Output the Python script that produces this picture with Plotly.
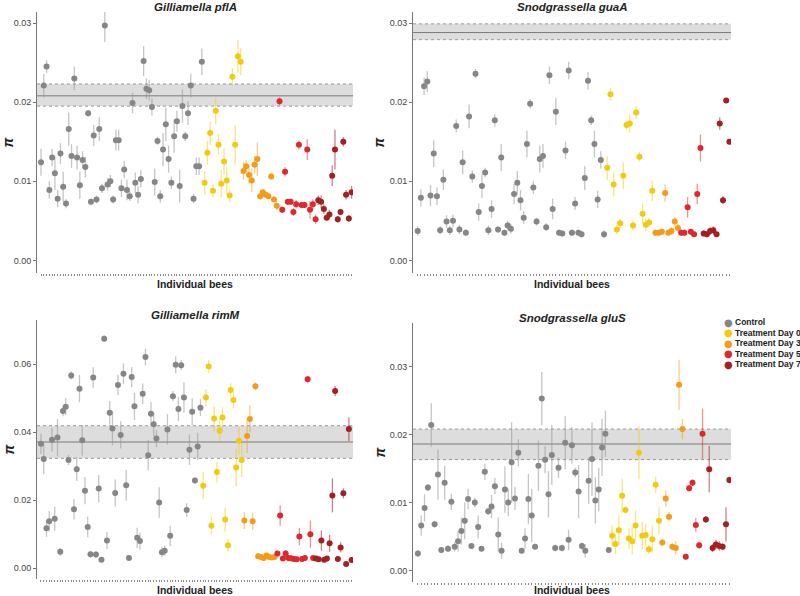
import plotly.graph_objects as go

W, H = 800, 596

groups = ["Control", "Treatment Day 0", "Treatment Day 3", "Treatment Day 5", "Treatment Day 7"]
colors = ["#868686", "#F2CB0C", "#F49B17", "#E0272B", "#A41E22"]
err_colors = ["rgba(150,150,150,0.55)", "rgba(242,203,12,0.5)", "rgba(244,155,23,0.5)",
              "rgba(224,39,43,0.5)", "rgba(164,30,34,0.55)"]

# Gilliamella pflA
pfla_counts = [59, 14, 13, 14, 13]
pfla_pi = [0.0124, 0.0221, 0.0245, 0.0089, 0.0130, 0.0110, 0.0078, 0.0135, 0.0093, 0.0072,
           0.0166, 0.0132, 0.0230, 0.0130, 0.0095, 0.0127, 0.0118, 0.0186, 0.0074, 0.0158,
           0.0077, 0.0166, 0.0091, 0.0297, 0.0096, 0.0100, 0.0077, 0.0152, 0.0152, 0.0091,
           0.0115, 0.0089, 0.0081, 0.0199, 0.0098, 0.0083, 0.0103, 0.0252, 0.0217, 0.0215,
           0.0194, 0.0099, 0.0151, 0.0081, 0.0140, 0.0172, 0.0128, 0.0098, 0.0157, 0.0176,
           0.0094, 0.0195, 0.0157, 0.0186, 0.0221, 0.0078, 0.0119, 0.0119, 0.0251,
           0.0098, 0.0136, 0.0161, 0.0088, 0.0189, 0.0146, 0.0097, 0.0125, 0.0101, 0.0082,
           0.0232, 0.0146, 0.0258, 0.0251,
           0.0113, 0.0119, 0.0108, 0.0101, 0.0121, 0.0128, 0.0081, 0.0086, 0.0083, 0.0081,
           0.0106, 0.0077, 0.0069,
           0.0201, 0.0064, 0.0112, 0.0074, 0.0074, 0.0061, 0.0071, 0.0146, 0.0070, 0.0070,
           0.0140, 0.0064, 0.0071, 0.0052,
           0.0076, 0.0074, 0.0065, 0.0054, 0.0058, 0.0107, 0.0140, 0.0052, 0.0061, 0.0150,
           0.0083, 0.0053, 0.0086]
pfla_err = [0.0017, 0.0015, 0.0008, 0.0011, 0.0011, 0.0021, 0.0011, 0.0013, 0.0019, 0.0006,
            0.0021, 0.0015, 0.0015, 0.0015, 0.0017, 0.0011, 0.0013, 0.0004, 0.0004, 0.0013,
            0.0005, 0.0015, 0.0006, 0.0021, 0.0008, 0.0008, 0.0005, 0.0013, 0.0013, 0.0011,
            0.0011, 0.0013, 0.0006, 0.0013, 0.0013, 0.0011, 0.0011, 0.0019, 0.0013, 0.0013,
            0.0011, 0.0017, 0.0005, 0.0008, 0.0021, 0.0021, 0.0017, 0.0008, 0.0021, 0.0013,
            0.0021, 0.0021, 0.0006, 0.0015, 0.0015, 0.0006, 0.0011, 0.0011, 0.0017,
            0.0015, 0.0015, 0.0015, 0.0008, 0.0017, 0.0013, 0.0017, 0.0017, 0.0017, 0.0008,
            0.0011, 0.0025, 0.0021, 0.0017,
            0.0011, 0.0008, 0.0011, 0.0015, 0.0011, 0.0021, 0.0004, 0.0004, 0.0003, 0.0003,
            0.0004, 0.0004, 0.0006,
            0.0005, 0.0004, 0.0006, 0.0004, 0.0004, 0.0005, 0.0005, 0.0006, 0.0004, 0.0004,
            0.0013, 0.0011, 0.0006, 0.0006,
            0.0006, 0.0008, 0.0006, 0.0004, 0.0006, 0.0013, 0.0025, 0.0004, 0.0004, 0.0006,
            0.0006, 0.0004, 0.0008]
pfla_band = [0.0195, 0.0208, 0.0223]

# Snodgrassella guaA
guaa_counts = [59, 15, 8, 7, 9]
guaa_pi = [0.0037, 0.0079, 0.0220, 0.0226, 0.0082, 0.0135, 0.0081, 0.0038, 0.0102, 0.0049,
           0.0038, 0.0050, 0.0170, 0.0039, 0.0124, 0.0035, 0.0182, 0.0106, 0.0236, 0.0061,
           0.0094, 0.0111, 0.0038, 0.0065, 0.0177, 0.0039, 0.0130, 0.0035, 0.0044, 0.0040,
           0.0084, 0.0098, 0.0076, 0.0054, 0.0147, 0.0198, 0.0092, 0.0049, 0.0128, 0.0132,
           0.0042, 0.0234, 0.0065, 0.0188, 0.0035, 0.0034, 0.0139, 0.0240, 0.0035, 0.0072,
           0.0035, 0.0033, 0.0104, 0.0227, 0.0177, 0.0147, 0.0077, 0.0127, 0.0033,
           0.0117, 0.0210, 0.0096, 0.0039, 0.0047, 0.0107, 0.0171, 0.0173, 0.0044, 0.0187,
           0.0131, 0.0059, 0.0045, 0.0048, 0.0088,
           0.0035, 0.0035, 0.0036, 0.0085, 0.0035, 0.0037, 0.0049, 0.0041,
           0.0035, 0.0035, 0.0067, 0.0036, 0.0033, 0.0084, 0.0142,
           0.0034, 0.0033, 0.0037, 0.0038, 0.0033, 0.0173, 0.0076, 0.0202, 0.0150]
guaa_err = [0.0006, 0.0011, 0.0011, 0.0013, 0.0013, 0.0017, 0.0011, 0.0005, 0.0013, 0.0008,
            0.0006, 0.0008, 0.0008, 0.0006, 0.0015, 0.0004, 0.0015, 0.0008, 0.0006, 0.0011,
            0.0015, 0.0006, 0.0006, 0.0011, 0.0008, 0.0004, 0.0017, 0.0004, 0.0006, 0.0006,
            0.0013, 0.0015, 0.0013, 0.0008, 0.0017, 0.0006, 0.0008, 0.0005, 0.0017, 0.0015,
            0.0005, 0.0011, 0.0013, 0.0017, 0.0004, 0.0004, 0.0011, 0.0011, 0.0004, 0.0008,
            0.0004, 0.0004, 0.0015, 0.0011, 0.0006, 0.0017, 0.0011, 0.0011, 0.0005,
            0.0015, 0.0008, 0.0015, 0.0006, 0.0006, 0.0017, 0.0006, 0.0011, 0.0006, 0.0008,
            0.0006, 0.0013, 0.0008, 0.0006, 0.0013,
            0.0004, 0.0004, 0.0004, 0.0011, 0.0004, 0.0005, 0.0006, 0.0006,
            0.0004, 0.0004, 0.0013, 0.0004, 0.0003, 0.0013, 0.0017,
            0.0004, 0.0004, 0.0005, 0.0005, 0.0003, 0.0008, 0.0005, 0.0003, 0.0003]
guaa_band = [0.0279, 0.0288, 0.0299]

# Gilliamella rimM
rimm_counts = [59, 15, 12, 14, 14]
rimm_pi = [0.0366, 0.0321, 0.0117, 0.0138, 0.0378, 0.0145, 0.0384, 0.0048, 0.0462, 0.0475,
           0.0318, 0.0567, 0.0173, 0.0291, 0.0528, 0.0376, 0.0228, 0.0121, 0.0041, 0.0561,
           0.0040, 0.0234, 0.0025, 0.0675, 0.0081, 0.0457, 0.0411, 0.0221, 0.0539, 0.0392,
           0.0572, 0.0244, 0.0030, 0.0562, 0.0476, 0.0089, 0.0080, 0.0513, 0.0621, 0.0332,
           0.0454, 0.0423, 0.0381, 0.0193, 0.0047, 0.0051, 0.0408, 0.0095, 0.0506, 0.0598,
           0.0468, 0.0597, 0.0502, 0.0171, 0.0348, 0.0460, 0.0258, 0.0358, 0.0472,
           0.0242, 0.0502, 0.0593, 0.0125, 0.0440, 0.0283, 0.0404, 0.0443, 0.0143, 0.0067,
           0.0524, 0.0495, 0.0296, 0.0375, 0.0318,
           0.0140, 0.0389, 0.0439, 0.0138, 0.0535, 0.0035, 0.0033, 0.0030, 0.0037, 0.0033,
           0.0031, 0.0033,
           0.0043, 0.0155, 0.0028, 0.0043, 0.0030, 0.0029, 0.0027, 0.0026, 0.0093, 0.0027,
           0.0030, 0.0556, 0.0100, 0.0030,
           0.0028, 0.0026, 0.0081, 0.0025, 0.0028, 0.0073, 0.0214, 0.0521, 0.0027, 0.0061,
           0.0220, 0.0012, 0.0409, 0.0024]
rimm_err = [0.0030, 0.0045, 0.0025, 0.0030, 0.0035, 0.0035, 0.0055, 0.0012, 0.0015, 0.0025,
            0.0015, 0.0012, 0.0030, 0.0035, 0.0040, 0.0045, 0.0040, 0.0030, 0.0010, 0.0030,
            0.0010, 0.0040, 0.0005, 0.0010, 0.0025, 0.0035, 0.0050, 0.0040, 0.0030, 0.0040,
            0.0030, 0.0045, 0.0005, 0.0030, 0.0040, 0.0030, 0.0025, 0.0030, 0.0025, 0.0045,
            0.0035, 0.0035, 0.0025, 0.0045, 0.0015, 0.0015, 0.0045, 0.0030, 0.0015, 0.0025,
            0.0035, 0.0015, 0.0045, 0.0020, 0.0045, 0.0040, 0.0010, 0.0040, 0.0025,
            0.0040, 0.0025, 0.0020, 0.0025, 0.0035, 0.0030, 0.0030, 0.0030, 0.0035, 0.0020,
            0.0020, 0.0025, 0.0055, 0.0040, 0.0050,
            0.0025, 0.0050, 0.0040, 0.0025, 0.0012, 0.0008, 0.0006, 0.0005, 0.0008, 0.0005,
            0.0005, 0.0005,
            0.0008, 0.0030, 0.0005, 0.0010, 0.0005, 0.0005, 0.0005, 0.0005, 0.0025, 0.0005,
            0.0008, 0.0010, 0.0040, 0.0005,
            0.0005, 0.0006, 0.0030, 0.0005, 0.0008, 0.0025, 0.0050, 0.0015, 0.0005, 0.0015,
            0.0015, 0.0005, 0.0035, 0.0005]
rimm_band = [0.0323, 0.0371, 0.0419]

# Snodgrassella gluS
glus_counts = [58, 15, 7, 6, 8]
glus_pi = [0.0025, 0.0066, 0.0092, 0.0122, 0.0214, 0.0068, 0.0141, 0.0030, 0.0129, 0.0032,
           0.0101, 0.0035, 0.0043, 0.0058, 0.0073, 0.0105, 0.0036, 0.0100, 0.0064, 0.0032,
           0.0145, 0.0087, 0.0094, 0.0124, 0.0053, 0.0029, 0.0119, 0.0100, 0.0159, 0.0106,
           0.0173, 0.0029, 0.0047, 0.0105, 0.0081, 0.0035, 0.0154, 0.0253, 0.0163, 0.0112,
           0.0170, 0.0033, 0.0151, 0.0033, 0.0188, 0.0045, 0.0184, 0.0144, 0.0116, 0.0036,
           0.0029, 0.0132, 0.0164, 0.0103, 0.0119, 0.0181, 0.0201, 0.0030,
           0.0051, 0.0039, 0.0059, 0.0110, 0.0089, 0.0047, 0.0043, 0.0066, 0.0173, 0.0051,
           0.0052, 0.0031, 0.0046, 0.0126, 0.0073,
           0.0041, 0.0106, 0.0079, 0.0035, 0.0033, 0.0273, 0.0208,
           0.0020, 0.0121, 0.0129, 0.0067, 0.0037, 0.0201,
           0.0075, 0.0149, 0.0033, 0.0038, 0.0036, 0.0035, 0.0068, 0.0133]
glus_err = [0.0005, 0.0015, 0.0020, 0.0005, 0.0032, 0.0005, 0.0037, 0.0004, 0.0025, 0.0005,
            0.0012, 0.0007, 0.0015, 0.0020, 0.0027, 0.0015, 0.0004, 0.0007, 0.0017, 0.0004,
            0.0012, 0.0005, 0.0017, 0.0012, 0.0025, 0.0012, 0.0034, 0.0020, 0.0059, 0.0017,
            0.0020, 0.0004, 0.0015, 0.0037, 0.0039, 0.0004, 0.0037, 0.0039, 0.0020, 0.0034,
            0.0044, 0.0005, 0.0015, 0.0005, 0.0039, 0.0015, 0.0027, 0.0007, 0.0039, 0.0005,
            0.0010, 0.0034, 0.0054, 0.0034, 0.0032, 0.0042, 0.0034, 0.0004,
            0.0015, 0.0015, 0.0022, 0.0025, 0.0005, 0.0015, 0.0020, 0.0022, 0.0039, 0.0020,
            0.0017, 0.0007, 0.0020, 0.0012, 0.0020,
            0.0005, 0.0012, 0.0007, 0.0005, 0.0010, 0.0037, 0.0015,
            0.0004, 0.0005, 0.0005, 0.0010, 0.0005, 0.0037,
            0.0005, 0.0034, 0.0006, 0.0007, 0.0007, 0.0005, 0.0025, 0.0005]
glus_band = [0.0163, 0.0186, 0.0208]


def px(x):
    return x / W


def py(y):
    return 1 - y / H


# title, values, errors, counts, band, y-range, dtick, (left, right, top, bottom) in px, pi-label x
panels = [
    ("Gilliamella pflA", pfla_pi, pfla_err, pfla_counts, pfla_band, [-0.0016, 0.0314], 0.01, (37, 353, 12, 273), 8),
    ("Snodgrassella guaA", guaa_pi, guaa_err, guaa_counts, guaa_band, [-0.0016, 0.0314], 0.01, (413, 731, 12, 273), 379),
    ("Gilliamella rimM", rimm_pi, rimm_err, rimm_counts, rimm_band, [-0.0032, 0.073], 0.02, (37, 353, 320, 579), 8),
    ("Snodgrassella gluS", glus_pi, glus_err, glus_counts, glus_band, [-0.0017, 0.0364], 0.01, (413, 731, 323, 582), 379),
]

fig = go.Figure()
shapes = []
annotations = []
font = "Liberation Sans, Arial, sans-serif"

for i, (title, vals, errs, counts, band, yr, dt, box, pix) in enumerate(panels):
    n = i + 1
    xa = "x" if n == 1 else f"x{n}"
    ya = "y" if n == 1 else f"y{n}"
    start = 0
    for g, c in enumerate(counts):
        xs = list(range(start + 1, start + c + 1))
        fig.add_trace(go.Scatter(
            x=xs, y=vals[start:start + c], mode="markers", name=groups[g],
            marker=dict(size=6, color=colors[g]),
            error_y=dict(type="data", array=errs[start:start + c], color=err_colors[g],
                         thickness=1.3, width=0),
            xaxis=xa, yaxis=ya, showlegend=False))
        start += c
    total = sum(counts)
    l, r, t, b = box
    fig.layout[f"xaxis{'' if n == 1 else n}"] = dict(
        domain=[px(l), px(r)], range=[-0.45, total + 0.5], anchor=ya,
        tickvals=list(range(1, total + 1)), ticks="outside", ticklen=2, tickwidth=1,
        tickcolor="#8a8a8a", showticklabels=False, showline=False, showgrid=False, zeroline=False)
    fig.layout[f"yaxis{'' if n == 1 else n}"] = dict(
        domain=[py(b), py(t)], range=yr, anchor=xa, dtick=dt, tick0=0, tickformat=".2f",
        ticks="outside", ticklen=3, tickcolor="#777", showline=True, linecolor="#777",
        linewidth=1, showgrid=False, zeroline=False,
        tickfont=dict(family=font, size=9, color="#444"))
    xref = f"{xa} domain"
    lo, mid, hi = band
    shapes.append(dict(type="rect", xref=xref, yref=ya, x0=0, x1=1, y0=lo, y1=hi,
                       fillcolor="#dddddd", line=dict(width=0), layer="below"))
    for v, dash, col in [(lo, "dot", "#9a9a9a"), (hi, "dot", "#9a9a9a"), (mid, "solid", "#7a7a7a")]:
        shapes.append(dict(type="line", xref=xref, yref=ya, x0=0, x1=1, y0=v, y1=v,
                           line=dict(color=col, width=1, dash=dash), layer="below"))
    cx = (l + r) / 2
    annotations.append(dict(text=f"<b><i>{title}</i></b>", x=px(cx), y=py(t - 5), xref="paper", yref="paper",
                            showarrow=False, font=dict(family=font, size=11.5, color="#222"),
                            xanchor="center", yanchor="middle"))
    if b > 500:
        annotations.append(dict(text="<b>Individual bees</b>", x=px(cx), y=0, xref="paper", yref="paper",
                                showarrow=False, font=dict(family=font, size=10.5, color="#222"),
                                xanchor="center", yanchor="bottom", borderpad=0, yshift=-1))
    else:
        annotations.append(dict(text="<b>Individual bees</b>", x=px(cx), y=py(b + 11), xref="paper", yref="paper",
                                showarrow=False, font=dict(family=font, size=10.5, color="#222"),
                                xanchor="center", yanchor="middle"))
    annotations.append(dict(text="<b><i>π</i></b>", x=px(pix), y=py((t + b) / 2), xref="paper", yref="paper",
                            showarrow=False, textangle=-90, font=dict(family=font, size=14, color="#222"),
                            xanchor="center", yanchor="middle"))

# legend drawn as text rows
for g, name in enumerate(groups):
    yy = py(322 + g * 10.6)
    annotations.append(dict(text="●", x=px(728), y=yy, xref="paper", yref="paper", showarrow=False,
                            xanchor="center", yanchor="middle", font=dict(family="DejaVu Sans", size=10, color=colors[g])))
    annotations.append(dict(text=f"<b>{name}</b>", x=px(733), y=yy, xref="paper", yref="paper", showarrow=False,
                            xanchor="left", yanchor="middle", font=dict(family=font, size=8.5, color="#222")))

fig.update_layout(
    width=W, height=H, margin=dict(l=0, r=0, t=0, b=0),
    paper_bgcolor="white", plot_bgcolor="white",
    shapes=shapes, annotations=annotations, showlegend=False)

fig.write_html("out.html", config={"displayModeBar": False},
               post_script="document.body.style.margin = '0';")
